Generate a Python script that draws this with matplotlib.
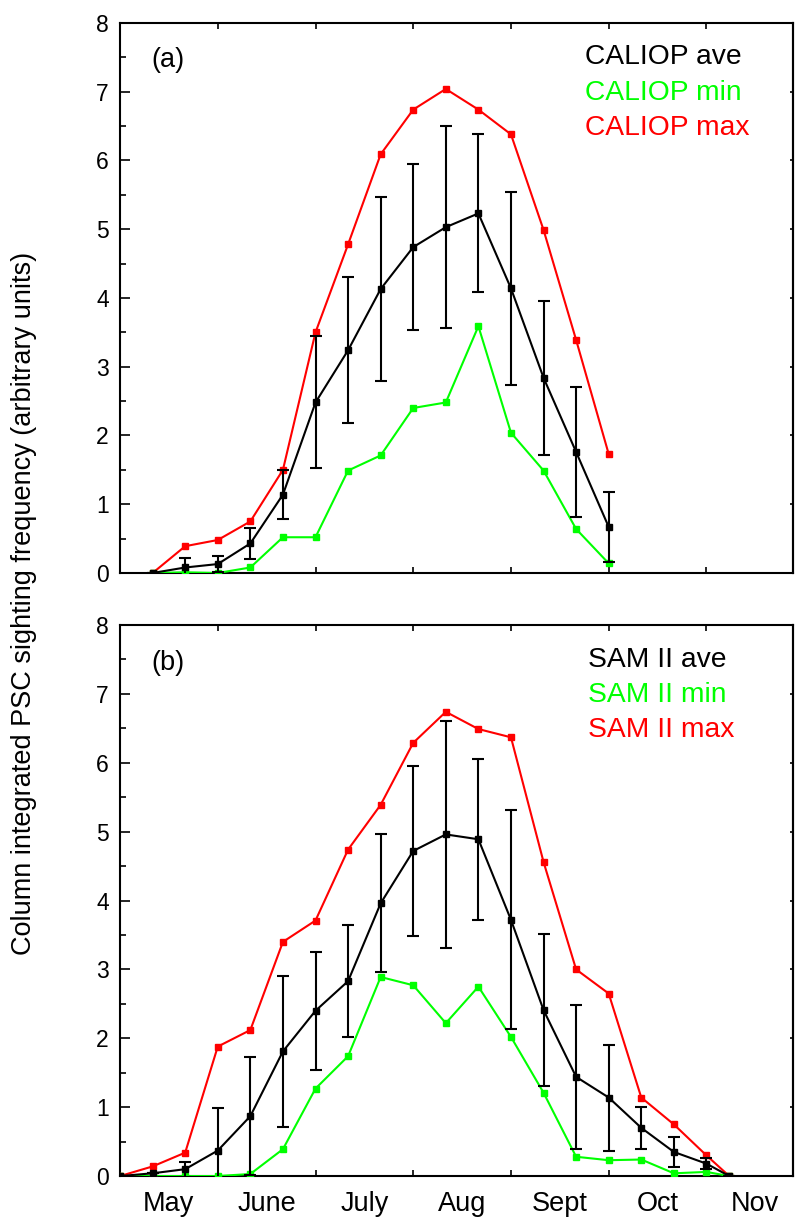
import matplotlib
matplotlib.use("Agg")
import matplotlib.pyplot as plt
import numpy as np

plt.rcParams['font.family'] = ['Liberation Sans', 'DejaVu Sans']

# x positions in 10-day steps (3 steps per month); month boundaries every 3
month_labels = ["May", "June", "July", "Aug", "Sept", "Oct", "Nov"]

# Panel (a) CALIOP
xa = [1, 2, 3, 4, 5, 6, 7, 8, 9, 10, 11, 12, 13, 14, 15]
cal_max = [0.0, 0.39, 0.48, 0.75, 1.50, 3.50, 4.78, 6.09, 6.74, 7.04, 6.74, 6.38, 4.99, 3.39, 1.73]
cal_min = [0.0, 0.01, 0.0, 0.08, 0.52, 0.52, 1.49, 1.71, 2.40, 2.48, 3.59, 2.04, 1.49, 0.64, 0.14]
cal_ave = [0.0, 0.08, 0.13, 0.43, 1.14, 2.48, 3.24, 4.13, 4.74, 5.03, 5.23, 4.14, 2.84, 1.76, 0.67]
cal_err = [0.0, 0.14, 0.11, 0.23, 0.36, 0.96, 1.06, 1.34, 1.21, 1.47, 1.15, 1.40, 1.12, 0.94, 0.51]

# Panel (b) SAM II
xb = [0, 1, 2, 3, 4, 5, 6, 7, 8, 9, 10, 11, 12, 13, 14, 15, 16, 17, 18, 18.7]
sam_max = [0.0, 0.14, 0.34, 1.88, 2.12, 3.40, 3.71, 4.74, 5.39, 6.29, 6.74, 6.49, 6.37, 4.56,
           3.00, 2.65, 1.14, 0.75, 0.30, 0.0]
sam_min = [0.0, 0.0, 0.0, 0.0, 0.03, 0.39, 1.27, 1.74, 2.89, 2.77, 2.22, 2.75, 2.02, 1.21,
           0.28, 0.23, 0.24, 0.04, 0.06, 0.0]
sam_ave = [0.0, 0.04, 0.10, 0.37, 0.87, 1.81, 2.40, 2.83, 3.96, 4.72, 4.96, 4.89, 3.72, 2.41,
           1.44, 1.14, 0.70, 0.35, 0.18, 0.0]
sam_err = [0.0, 0.0, 0.11, 0.62, 0.86, 1.10, 0.86, 0.81, 1.00, 1.24, 1.65, 1.17, 1.59, 1.10,
           1.05, 0.77, 0.30, 0.22, 0.08, 0.0]

RED = "#ff0000"
GREEN = "#00ff00"

fig = plt.figure(figsize=(7.95, 12.22), dpi=100)
ax_a = fig.add_axes([0.151, 0.5311, 0.847, 0.4501])
ax_b = fig.add_axes([0.151, 0.0376, 0.847, 0.4509])

def style(ax, show_months):
    ax.set_xlim(0, 20.67)
    ax.set_ylim(0, 8)
    for s in ax.spines.values():
        s.set_linewidth(1.5)
    ax.set_yticks(np.arange(0, 9, 1))
    ax.set_yticks(np.arange(0.5, 8, 1), minor=True)
    ax.set_xticks(np.arange(0, 21, 3))
    ax.set_xticks(np.arange(1.5, 21, 3), minor=True)
    ax.tick_params(axis='y', which='major', direction='in', length=7.5, width=1.2,
                   labelsize=16.5, pad=8, left=True, right=False)
    ax.tick_params(axis='y', which='minor', direction='in', length=4.5, width=1.2,
                   left=True, right=False)
    ax.tick_params(axis='x', which='major', direction='in', length=4.5, width=1.2,
                   top=True, bottom=True, labelbottom=False)
    ax.tick_params(axis='x', which='minor', length=0, top=False, bottom=True,
                   labelsize=19.5, pad=11, labelbottom=show_months)
    if show_months:
        ax.set_xticklabels(month_labels, minor=True)
    sec = ax.secondary_yaxis('right')
    sec.set_yticks(np.arange(0, 9, 1))
    sec.tick_params(direction='in', length=2.5, width=1.2, labelright=False)
    sec.spines['right'].set_linewidth(1.5)

def draw(ax, x, vmax, vmin, vave, verr):
    ax.plot(x, vmax, color=RED, lw=1.5, marker='s', ms=4.7, mec=RED, mfc=RED, zorder=3)
    ax.plot(x, vmin, color=GREEN, lw=1.5, marker='s', ms=4.7, mec=GREEN, mfc=GREEN, zorder=3)
    ax.errorbar(x, vave, yerr=verr, color='black', lw=1.5, marker='s', ms=4.7,
                capsize=4.5, capthick=1.5, elinewidth=1.5, zorder=4, clip_on=True)

draw(ax_a, xa, cal_max, cal_min, cal_ave, cal_err)
draw(ax_b, xb, sam_max, sam_min, sam_ave, sam_err)
style(ax_a, False)
style(ax_b, True)

ax_a.text(0.047, 0.933, "(a)", transform=ax_a.transAxes, fontsize=19.5, va='center', ha='left')
ax_b.text(0.047, 0.931, "(b)", transform=ax_b.transAxes, fontsize=19.5, va='center', ha='left')

for txt, col, yy in [("CALIOP ave", "black", 0.938), ("CALIOP min", GREEN, 0.873), ("CALIOP max", RED, 0.809)]:
    ax_a.text(0.690, yy, txt, color=col, transform=ax_a.transAxes, fontsize=20.3, va='center', ha='left')
for txt, col, yy in [("SAM II ave", "black", 0.936), ("SAM II min", GREEN, 0.873), ("SAM II max", RED, 0.809)]:
    ax_b.text(0.695, yy, txt, color=col, transform=ax_b.transAxes, fontsize=20.3, va='center', ha='left')

fig.text(0.030, 0.506, "Column integrated PSC sighting frequency (arbitrary units)",
         rotation=90, fontsize=19.5, va='center', ha='center')

fig.savefig("out.png", dpi=100)
